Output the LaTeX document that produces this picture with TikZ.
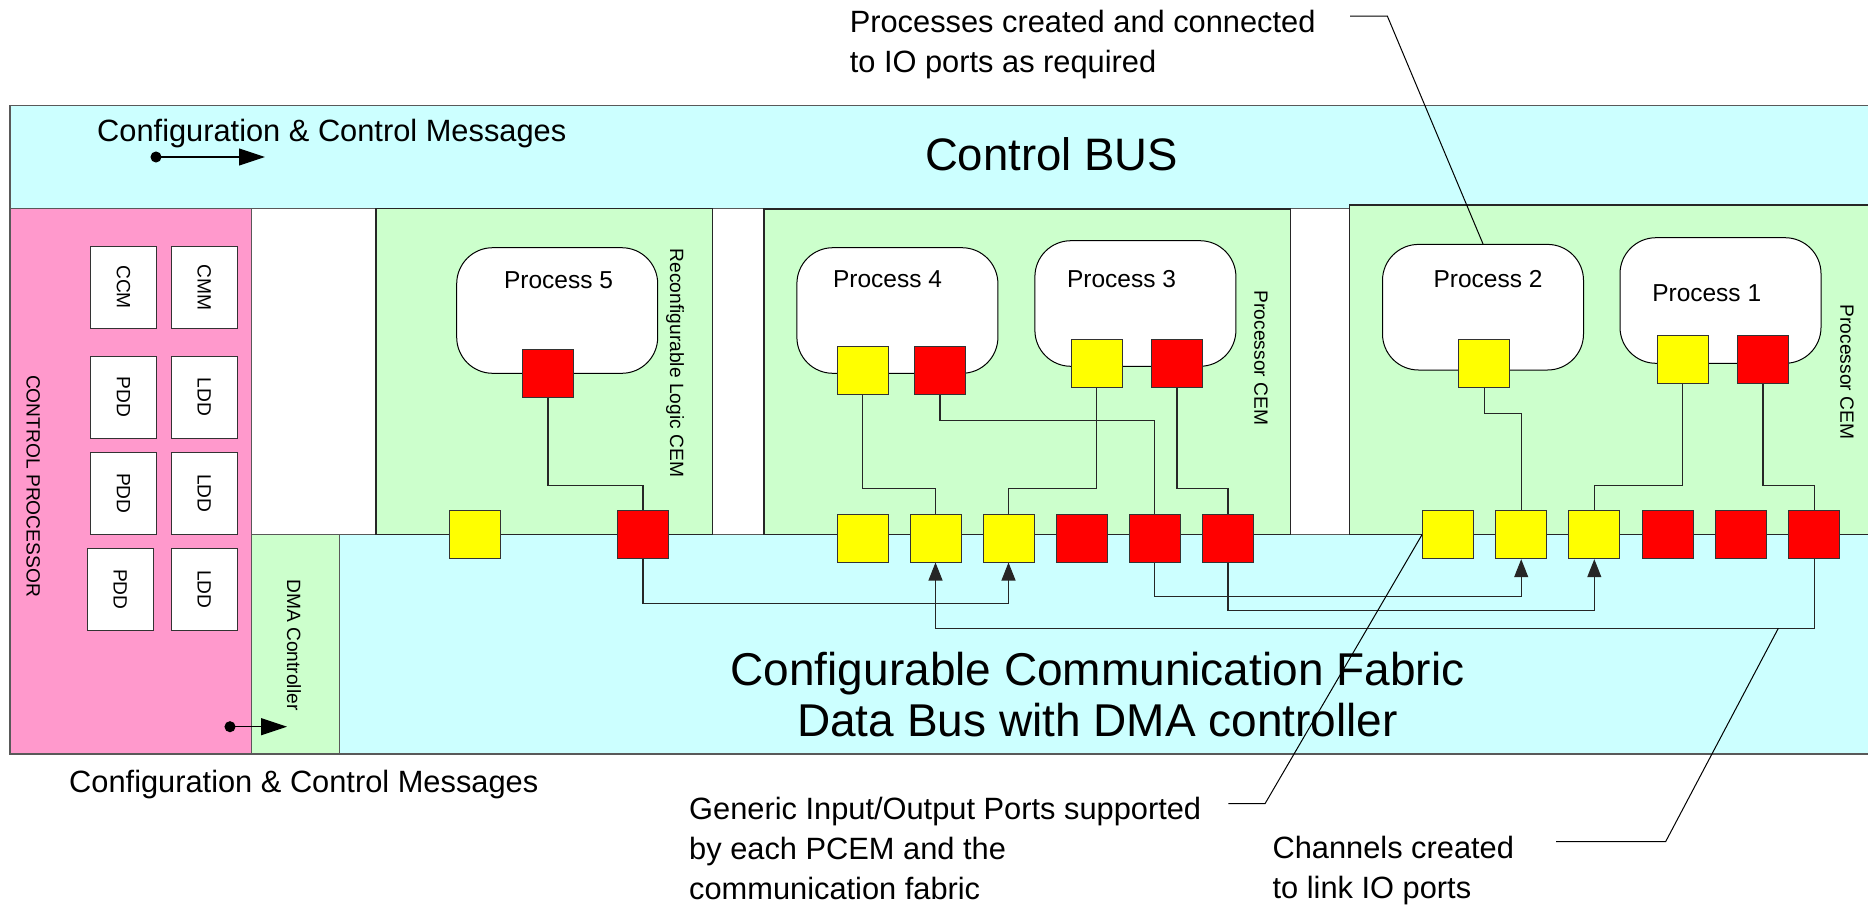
\documentclass[tikz,border=0pt]{standalone}
\usepackage{fontspec}
\setmainfont{Liberation Sans}
\usepackage{tikz}
\usetikzlibrary{arrows.meta}

\definecolor{busblue}{HTML}{CCFFFF}
\definecolor{cemgreen}{HTML}{CCFFCC}
\definecolor{cppink}{HTML}{FF99CC}
\definecolor{portyel}{HTML}{FFFF00}
\definecolor{portred}{HTML}{FF0000}

\tikzset{
  region/.style={draw=black!65, line width=1.2pt},
  ioy/.style={shape=rectangle, draw=black!80, line width=1pt, fill=portyel, minimum width=51pt, minimum height=48pt, inner sep=0pt},
  ior/.style={ioy, fill=portred},
  proc/.style={shape=rectangle, draw, line width=1pt, fill=white, rounded corners=36pt, minimum width=201pt, minimum height=125.6pt, inner sep=0pt},
  procname/.style={font=\fontsize{24.5}{30}\selectfont, anchor=base, inner sep=0pt},
  side/.style={font=\fontsize{19.2}{23}\selectfont, rotate=-90, inner sep=0pt},
  unit/.style={shape=rectangle, draw=black!80, line width=1pt, fill=white, rotate=-90, minimum width=82pt, minimum height=66pt, inner sep=0pt, font=\fontsize{19.2}{23}\selectfont},
  note/.style={font=\fontsize{30.8}{40}\selectfont, align=left, anchor=base west, inner sep=0pt},
  wire/.style={draw=black!85, line width=1.1pt},
  chan/.style={wire, -{Triangle[length=18pt,width=14pt]}},
  msg/.style={line width=1.1pt, {Circle[length=11pt]}-{Triangle[length=26pt,width=17pt]}},
  leader/.style={draw=black, line width=1pt}
}

\begin{document}
\begin{tikzpicture}[x=1pt,y=-1pt]
\useasboundingbox (0,0) rectangle (1868,905);
\clip (0,0) rectangle (1868,905);

\draw [region, fill=busblue] (10,105.7) rectangle (1880,208.3);
\draw [region, fill=cppink] (10,208.3) rectangle (251.7,754);
\draw [region, fill=busblue] (339.3,534.3) rectangle (1880,754);
\draw [region, fill=cemgreen] (251.7,534.3) rectangle (339.3,754);
\draw [region, draw=black!85, fill=cemgreen] (376,208.3) rectangle (712.4,534.3);
\draw [region, draw=black!85, fill=cemgreen] (764,209) rectangle (1290.6,534.3);
\draw [region, draw=black!85, fill=cemgreen] (1349.3,205) rectangle (1880,534.3);

\node (cfgtop) at (97,141) [note] {Configuration \& Control Messages};
\node (busname) at (1051.5,170.7) [font=\fontsize{45.5}{50}\selectfont, anchor=base, inner sep=0pt] {Control BUS};
\coordinate (msgtopa) at (150.5,157);
\coordinate (msgtopb) at (265,157);
\draw [msg] (msgtopa) -- (msgtopb);

\node (cproc) at (33.3,486) [side] {CONTROL PROCESSOR};
\node (ccm) at (123.5,287.1) [unit] {CCM};
\node (cmm) at (204.2,287.1) [unit] {CMM};
\node (pdda) at (123.5,397) [unit] {PDD};
\node (ldda) at (204.2,397) [unit] {LDD};
\node (pddb) at (123.5,493.3) [unit] {PDD};
\node (lddb) at (204.2,493.3) [unit] {LDD};
\node (pddc) at (120.3,589.4) [unit] {PDD};
\node (lddc) at (204.2,589.4) [unit] {LDD};

\node (dma) at (294,645) [side] {DMA Controller};
\coordinate (msgbota) at (224.5,726.7);
\coordinate (msgbotb) at (287,726.7);
\draw [msg] (msgbota) -- (msgbotb);
\node (cfgbot) at (69,792.3) [note] {Configuration \& Control Messages};

\node (fabric) at (1097.5,736.7) [font=\fontsize{46}{51.7}\selectfont, align=center, anchor=base, inner sep=0pt] {Configurable Communication Fabric\\Data Bus with DMA controller};

\node (rlcem) at (675,363) [side] {Reconfigurable Logic CEM};
\node (p5) at (557.2,310.5) [proc] {};
\node (p5name) at (558.5,288.3) [procname] {Process 5};
\node (p5r) at (548,373.3) [ior] {};
\node (rly) at (474.8,534.7) [ioy] {};
\node (rlr) at (643,534.7) [ior] {};

\node (pcema) at (1261,358) [side] {Processor CEM};
\node (p4) at (897.4,310.5) [proc] {};
\node (p4name) at (887.5,287.7) [procname] {Process 4};
\node (p3) at (1135.4,303.5) [proc] {};
\node (p3name) at (1121.5,287.7) [procname] {Process 3};
\node (p4y) at (862.5,370) [ioy] {};
\node (p4r) at (940,370) [ior] {};
\node (p3y) at (1096.5,363.3) [ioy] {};
\node (p3r) at (1177,363.3) [ior] {};
\node (my1) at (862.5,538) [ioy] {};
\node (my2) at (935.5,538) [ioy] {};
\node (my3) at (1008.5,538) [ioy] {};
\node (mr1) at (1081.5,538) [ior] {};
\node (mr2) at (1154.5,538) [ior] {};
\node (mr3) at (1228,538) [ior] {};

\node (pcemb) at (1847,372) [side] {Processor CEM};
\node (p2) at (1483,307.2) [proc] {};
\node (p2name) at (1488,287.7) [procname] {Process 2};
\node (p1) at (1720.5,300.5) [proc] {};
\node (p1name) at (1706.7,301.7) [procname] {Process 1};
\node (p2y) at (1484.4,363.3) [ioy] {};
\node (p1y) at (1682.5,359.7) [ioy] {};
\node (p1r) at (1763,359.7) [ior] {};
\node (ry1) at (1448,534.7) [ioy] {};
\node (ry2) at (1521.2,534.7) [ioy] {};
\node (ry3) at (1594.3,534.7) [ioy] {};
\node (rr1) at (1667.6,534.7) [ior] {};
\node (rr2) at (1740.8,534.7) [ior] {};
\node (rr3) at (1814.2,534.7) [ior] {};

\draw [wire] (p5r.south) -- ++(0,87.7) -| (rlr.north);
\draw [wire] (p4y.south) -- ++(0,94) -| (my2.north);
\draw [wire] (p3y.south) -- ++(0,100.7) -| (my3.north);
\draw [wire] (p4r.south) -- ++(0,25.7) -| (mr2.north);
\draw [wire] (p3r.south) -- ++(0,100.7) -| (mr3.north);
\draw [wire] (p2y.south) -- ++(0,25.4) -| (ry2.north);
\draw [wire] (p1y.south) -- ++(0,101) -| (ry3.north);
\draw [wire] (p1r.south) -- ++(0,101) -| (rr3.north);

\draw [chan] (rlr.south) -- ++(0,44.6) -| (my3.south);
\draw [chan] (mr2.south) -- ++(0,33.7) -| (ry2.south);
\draw [chan] (mr3.south) -- ++(0,48) -| (ry3.south);
\draw [chan] (rr3.south) -- ++(0,69.6) -| (my2.south);

\node (topnote) at (849.6,72.7) [note] {Processes created and connected\\to IO ports as required};
\node (ionote) at (689,899) [note] {Generic Input/Output Ports supported\\by each PCEM and the\\communication fabric};
\node (channote) at (1272.4,898) [note] {Channels created\\to link IO ports};

\coordinate (leadtop) at (1350,16);
\draw [leader] (leadtop) -- ++(37.3,0) -- (p2.north);
\coordinate (leadio) at (1228.3,803.7);
\draw [leader] (leadio) -- ++(36.7,0) -- (ry1.west);
\coordinate (leadchan) at (1556,841.7);
\coordinate (chanpt) at (1778.3,628.3);
\draw [leader] (leadchan) -- ++(109.6,0) -- (chanpt);
\end{tikzpicture}
\end{document}
